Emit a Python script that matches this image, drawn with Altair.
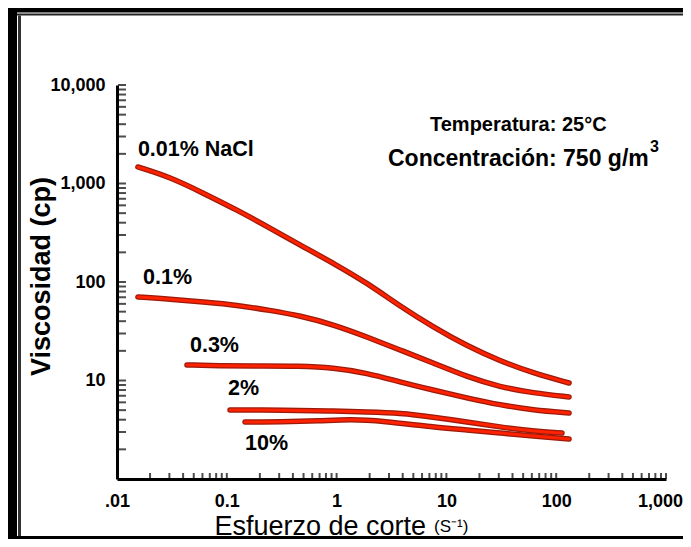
import altair as alt
import pandas as pd

# ---- data ----
s1_x = [0.0155, 0.0304, 0.0607, 0.124, 0.247, 0.464, 0.966, 1.89, 3.78, 7.55, 15.4, 30.8, 61.5, 131]
s1_y = [1472, 1164, 801, 538, 353, 238, 152, 97.7, 57.0, 34.9, 22.4, 15.8, 11.9, 9.43]
s2_x = [0.0155, 0.0304, 0.0607, 0.124, 0.247, 0.464, 0.927, 1.89, 3.78, 7.55, 15.4, 30.8, 61.5, 131]
s2_y = [70.4, 67.2, 62.7, 58.4, 51.5, 45.5, 37.0, 27.7, 20.4, 15.1, 10.9, 8.59, 7.47, 6.80]
s3_x = [0.0434, 0.0867, 0.173, 0.464, 0.927, 1.89, 3.78, 7.55, 15.4, 30.8, 61.5, 131]
s3_y = [14.4, 14.1, 14.0, 14.0, 13.5, 11.9, 9.66, 8.01, 6.64, 5.64, 5.02, 4.68]
s4_x = [0.107, 0.200, 0.464, 0.927, 1.89, 3.78, 7.55, 15.4, 30.8, 61.5, 113]
s4_y = [5.02, 5.02, 4.95, 4.90, 4.79, 4.68, 4.26, 3.79, 3.37, 3.07, 2.93]
s5_x = [0.1466, 0.305, 0.706, 1.324, 2.65, 7.55, 15.4, 30.8, 61.5, 131]
s5_y = [3.79, 3.79, 3.88, 4.06, 3.88, 3.37, 3.15, 2.93, 2.73, 2.55]
series_names = ["0.01% NaCl", "0.1%", "0.3%", "2%", "10%"]

label_text = ["0.01% NaCl", "0.1%", "0.3%", "2%", "10%"]
label_x = [0.0155, 0.01726, 0.0462, 0.1026, 0.1466]
label_y = [2187, 109.8, 22.4, 8.2, 2.27]

x_tick_labels = [0.01, 0.1, 1, 10, 100, 1000]
y_tick_labels = [10, 100, 1000, 10000]
x_minor = [m * 10.0 ** k for k in range(-2, 3) for m in range(2, 11)]
y_minor = [m * 10.0 ** k for k in range(0, 4) for m in range(2, 11)]

# ---- build tables ----
rows = []
for name, xs, ys in zip(series_names, [s1_x, s2_x, s3_x, s4_x, s5_x], [s1_y, s2_y, s3_y, s4_y, s5_y]):
    for i, (a, b) in enumerate(zip(xs, ys)):
        rows.append({"serie": name, "order": i, "x": a, "y": b})
curves = pd.DataFrame(rows)
labels = pd.DataFrame({"text": label_text, "x": label_x, "y": label_y})
xt = pd.DataFrame({"x": x_minor})
yt = pd.DataFrame({"y": y_minor})

W, H = 549, 394
FONT = "Liberation Sans"
xscale = alt.Scale(type="log", domain=[0.01, 1000])
yscale = alt.Scale(type="log", domain=[1, 10000])

xaxis = alt.Axis(values=x_tick_labels, labelExpr="datum.value < 0.05 ? '.01' : format(datum.value, ',')",
                 ticks=False, grid=False, labelFlush=False, labelOverlap=False, labelPadding=13,
                 labelOffset={"condition": {"test": "datum.value > 500", "value": -6}, "value": 0},
                 labelFont=FONT, labelFontSize=18, labelFontWeight="bold", labelColor="black",
                 domainColor="black", domainWidth=3,
                 title="Esfuerzo de corte", titleFont=FONT, titleFontSize=27, titleFontWeight="normal",
                 titleColor="black", titleX=97, titleY=55, titleAlign="left", titleBaseline="alphabetic")
yaxis = alt.Axis(values=y_tick_labels, format=",", ticks=False, grid=False, labelPadding=12,
                 labelFont=FONT, labelFontSize=18, labelFontWeight="bold", labelColor="black",
                 domainColor="black", domainWidth=3,
                 title="Viscosidad (cp)", titleFont=FONT, titleFontSize=27, titleFontWeight="bold",
                 titleColor="black", titleX=-76, titleY=191, titleAngle=270, titleAlign="center",
                 titleBaseline="middle")

base = alt.Chart(curves).encode(
    x=alt.X("x:Q", scale=xscale, axis=xaxis),
    y=alt.Y("y:Q", scale=yscale, axis=yaxis),
    detail="serie:N",
    order="order:Q",
)
outer = base.mark_line(color="#9a1a0c", strokeWidth=5.5, interpolate="basis", strokeCap="round")
inner = base.mark_line(color="#ff2200", strokeWidth=3, interpolate="basis", strokeCap="round")

ytick_layer = alt.Chart(yt).mark_tick(color="black", orient="horizontal", size=8, thickness=2).encode(
    y=alt.Y("y:Q", scale=yscale), x=alt.value(5))
xtick_layer = alt.Chart(xt).mark_tick(color="black", orient="vertical", size=6, thickness=2).encode(
    x=alt.X("x:Q", scale=xscale), y=alt.value(H - 3))

lab = alt.Chart(labels).mark_text(font=FONT, fontSize=21.5, fontWeight="bold", align="left",
                                  baseline="middle", color="black").encode(
    x=alt.X("x:Q", scale=xscale), y=alt.Y("y:Q", scale=yscale), text="text:N")

one = alt.Data(values=[{}])
def txt(s, px, py, size, weight="bold", align="left", baseline="middle"):
    return alt.Chart(one).mark_text(text=s, font=FONT, fontSize=size, fontWeight=weight, align=align,
                                    baseline=baseline, color="black").encode(
        x=alt.value(px), y=alt.value(py))

def box(x1, x2, y1, y2, color="black"):
    return alt.Chart(one).mark_rect(color=color).encode(
        x=alt.value(x1), x2=alt.value(x2), y=alt.value(y1), y2=alt.value(y2))

t1 = txt("Temperatura: 25°C", 313, 40, 20)
t2 = txt("Concentración: 750 g/m", 271, 74, 23)
t3 = txt("3", 533, 62, 16)
t4 = txt("(S⁻¹)", 317, 447, 17, weight="normal", baseline="alphabetic")

frame = [
    box(-109, 566, -77, -72.5),
    box(-109, 566, -71.5, -69.5, "#222222"),
    box(-109, -100, -77, 454),
    box(-99, -96, -69.5, 454, "#333333"),
    box(-109, 566, 451, 454),
]

chart = alt.layer(outer, inner, ytick_layer, xtick_layer, lab, t1, t2, t3, t4, *frame).properties(
    width=W, height=H,
    autosize=alt.AutoSizeParams(type="none"),
    padding={"left": 109, "top": 77, "right": 17, "bottom": 60},
    background="white",
).configure_view(stroke=None)

chart.save("out.html", embed_options={"renderer": "svg", "actions": False})
